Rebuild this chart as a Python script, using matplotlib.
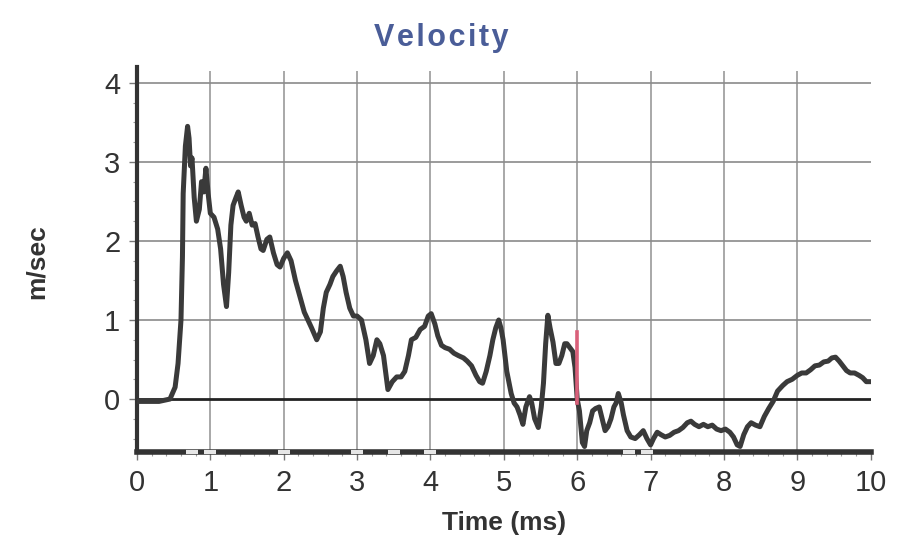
import matplotlib
matplotlib.use("Agg")
import matplotlib.pyplot as plt
from matplotlib.ticker import MultipleLocator

plt.rcParams['font.family'] = ['Liberation Sans Narrow', 'Liberation Sans', 'DejaVu Sans']

# velocity trace, time in ms
time_ms = [0.00, 0.30, 0.45, 0.52, 0.56, 0.60, 0.62, 0.63, 0.66, 0.69, 0.71, 0.73,
           0.75, 0.78, 0.81, 0.85, 0.88, 0.91, 0.94, 0.97, 1.00, 1.05, 1.10, 1.14,
           1.18, 1.22, 1.25, 1.28, 1.31, 1.35, 1.38, 1.42, 1.46, 1.49, 1.53, 1.57,
           1.61, 1.65, 1.69, 1.72, 1.77, 1.81, 1.86, 1.91, 1.95, 2.00, 2.05, 2.10,
           2.16, 2.22, 2.28, 2.33, 2.38, 2.45, 2.50, 2.54, 2.58, 2.63, 2.67, 2.72,
           2.77, 2.81, 2.85, 2.90, 2.95, 3.00, 3.06, 3.12, 3.17, 3.22, 3.27, 3.31,
           3.36, 3.42, 3.48, 3.54, 3.60, 3.65, 3.70, 3.74, 3.80, 3.86, 3.92, 3.97,
           4.01, 4.06, 4.10, 4.15, 4.20, 4.26, 4.32, 4.38, 4.45, 4.50, 4.56, 4.62,
           4.67, 4.71, 4.76, 4.81, 4.85, 4.89, 4.93, 4.96, 4.99, 5.04, 5.10, 5.14,
           5.18, 5.22, 5.26, 5.30, 5.35, 5.38, 5.42, 5.47, 5.51, 5.54, 5.57, 5.60,
           5.63, 5.67, 5.71, 5.75, 5.79, 5.83, 5.86, 5.90, 5.94, 5.97, 6.00, 6.03,
           6.07, 6.10, 6.13, 6.17, 6.21, 6.25, 6.30, 6.34, 6.38, 6.42, 6.46, 6.50,
           6.53, 6.56, 6.60, 6.63, 6.68, 6.73, 6.79, 6.85, 6.90, 6.95, 7.00, 7.04,
           7.09, 7.14, 7.20, 7.26, 7.32, 7.38, 7.44, 7.50, 7.55, 7.60, 7.66, 7.72,
           7.78, 7.84, 7.90, 7.96, 8.02, 8.08, 8.13, 8.18, 8.22, 8.27, 8.32, 8.37,
           8.43, 8.49, 8.55, 8.61, 8.67, 8.73, 8.80, 8.86, 8.93, 9.00, 9.06, 9.12,
           9.18, 9.24, 9.30, 9.36, 9.42, 9.47, 9.52, 9.57, 9.62, 9.67, 9.72, 9.78,
           9.84, 9.89, 9.94, 10.00]
velocity = [-0.03, -0.03, 0.00, 0.15, 0.45, 1.00, 1.80, 2.60, 3.20, 3.45, 3.30, 2.95,
            3.05, 2.55, 2.25, 2.40, 2.75, 2.62, 2.92, 2.60, 2.35, 2.30, 2.15, 1.90,
            1.45, 1.17, 1.60, 2.20, 2.45, 2.55, 2.62, 2.45, 2.30, 2.25, 2.35, 2.20,
            2.22, 2.05, 1.90, 1.88, 2.02, 2.05, 1.85, 1.70, 1.67, 1.78, 1.85, 1.75,
            1.50, 1.30, 1.10, 1.00, 0.90, 0.75, 0.85, 1.15, 1.35, 1.45, 1.55, 1.62,
            1.68, 1.55, 1.35, 1.15, 1.05, 1.05, 1.00, 0.75, 0.45, 0.55, 0.75, 0.70,
            0.55, 0.12, 0.22, 0.28, 0.28, 0.35, 0.55, 0.75, 0.78, 0.88, 0.92, 1.05,
            1.08, 0.95, 0.80, 0.68, 0.65, 0.63, 0.58, 0.55, 0.52, 0.48, 0.42, 0.30,
            0.22, 0.20, 0.35, 0.55, 0.75, 0.90, 1.00, 0.90, 0.75, 0.35, 0.07, -0.05,
            -0.10, -0.20, -0.32, -0.10, 0.03, -0.05, -0.25, -0.36, -0.10, 0.20, 0.70, 1.06,
            0.90, 0.72, 0.45, 0.45, 0.55, 0.70, 0.70, 0.65, 0.60, 0.40, 0.00, -0.15,
            -0.55, -0.60, -0.40, -0.30, -0.15, -0.12, -0.10, -0.25, -0.40, -0.35, -0.25, -0.10,
            -0.05, 0.07, -0.05, -0.20, -0.40, -0.48, -0.50, -0.45, -0.40, -0.50, -0.58, -0.50,
            -0.42, -0.45, -0.48, -0.46, -0.42, -0.40, -0.36, -0.30, -0.28, -0.32, -0.35, -0.32,
            -0.35, -0.33, -0.38, -0.40, -0.38, -0.42, -0.48, -0.58, -0.60, -0.45, -0.35, -0.30,
            -0.33, -0.35, -0.22, -0.12, -0.03, 0.10, 0.17, 0.22, 0.25, 0.30, 0.33, 0.33,
            0.37, 0.42, 0.43, 0.47, 0.48, 0.52, 0.53, 0.48, 0.42, 0.36, 0.33, 0.33,
            0.30, 0.27, 0.22, 0.22]

# cursor segment at 6 ms
cursor_t = 6.0
cursor_v = (-0.05, 0.85)

# event markers along the time axis
event_t = [0.75, 1.0, 2.0, 3.0, 3.5, 4.0, 6.7, 6.95]

y_min, y_max = -0.67, 4.15
ink = '#333333'

fig = plt.figure(figsize=(9.07, 5.57), dpi=100)
ax = fig.add_axes([0.151, 0.1885, 0.809, 0.684])

ax.set_xlim(0, 10)
ax.set_ylim(y_min, y_max)

ax.set_xticks(range(0, 11))
ax.set_yticks(range(0, 5))
ax.xaxis.set_minor_locator(MultipleLocator(0.2))
ax.yaxis.set_minor_locator(MultipleLocator(0.25))

# grid
for xv in range(1, 10):
    ax.axvline(xv, color='#999999', lw=1.2, zorder=0)
for yv in range(1, 5):
    ax.axhline(yv, color='#8a8a8a', lw=1.2, zorder=0)
ax.axhline(0, color='#222222', lw=2.0, zorder=1)

ax.plot(time_ms, velocity, color='#3a3a3a', lw=3.6, solid_joinstyle='round',
        solid_capstyle='round', zorder=3)
ax.plot([cursor_t, cursor_t], cursor_v, color='#d9607a', lw=2.6, zorder=4)

ax.plot(event_t, [y_min] * len(event_t), ls='none', marker='_', ms=9, mew=3,
        color='#e6e6e6', zorder=6, clip_on=False)

for side in ('top', 'right'):
    ax.spines[side].set_visible(False)
ax.spines['left'].set_linewidth(3)
ax.spines['left'].set_color(ink)
ax.spines['bottom'].set_linewidth(4)
ax.spines['bottom'].set_color(ink)
ax.spines['left'].set_bounds(y_min, 4.2)

ax.tick_params(axis='both', which='major', length=6, width=1, color='#777777',
               labelsize=21, labelcolor=ink, pad=6)
ax.tick_params(axis='both', which='minor', length=3, width=0.8, color='#999999')

ax.set_title('V e l o c i t y'.replace(' ', '\u200a'), color='#4a5d98', fontsize=22,
             fontweight='bold', pad=18, x=0.415)
ax.set_xlabel('Time (ms)', color=ink, fontsize=19, fontweight='bold', labelpad=10)
ax.set_ylabel('m/sec', color=ink, fontsize=19, fontweight='bold', labelpad=40)

fig.savefig('out.png', dpi=100, facecolor='white')
